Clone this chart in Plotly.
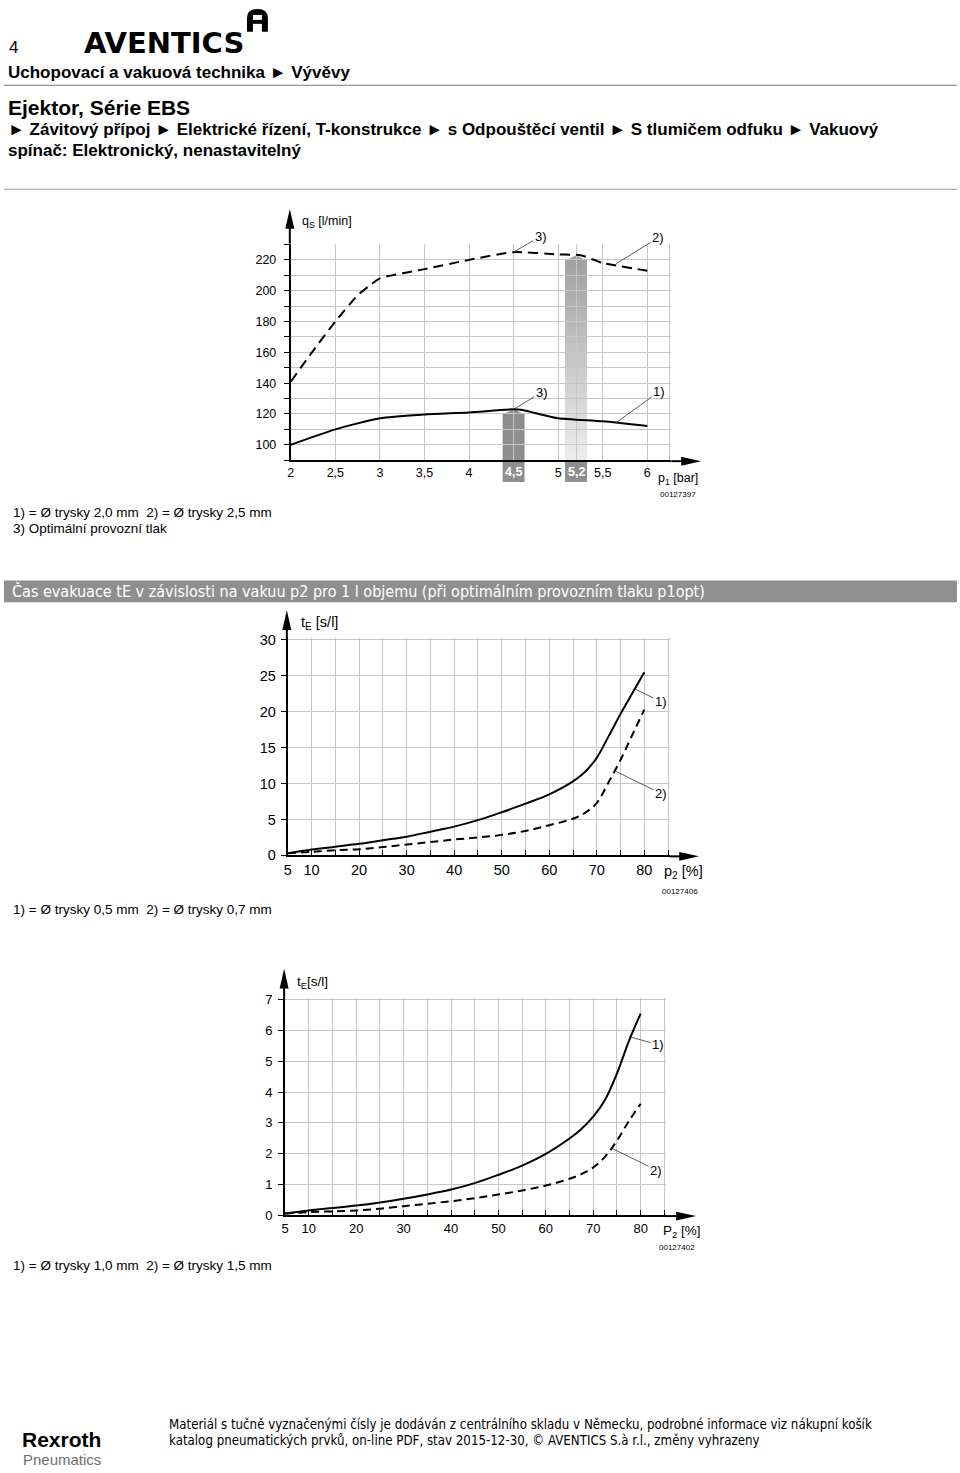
import plotly.graph_objects as go

W, H = 960, 1473
FONT = "Liberation Sans, Arial, Helvetica, sans-serif"
NARROW = "Liberation Sans Narrow, Arial Narrow, DejaVu Sans Condensed, sans-serif"

# ---------------- data ----------------
# Chart 1: suction flow q_S [l/min] vs operating pressure p1 [bar]
p1_nozzle25 = [2, 2.25, 2.5, 2.75, 2.9, 3, 3.5, 4, 4.5, 5, 5.25, 5.5, 6]
qs_nozzle25 = [141, 161, 180, 197, 204, 208, 214, 220, 225, 223.5, 223, 218, 213]
p1_nozzle20 = [2, 2.5, 3, 3.5, 4, 4.5, 4.6, 4.75, 5, 5.5, 6]
qs_nozzle20 = [100, 110, 117.2, 119.6, 121, 123, 122.6, 120.5, 117.2, 115.2, 112.2]
p1_opt = [4.5, 5.2]          # optimal operating pressure (nozzle 2.0 / 2.5 mm)
qs_opt = [123, 223]
p1_ticks = [2, 2.5, 3, 3.5, 4, 4.5, 5, 5.2, 5.5, 6]
p1_labels = ["2", "2,5", "3", "3,5", "4", "", "5", "", "5,5", "6"]
p1_opt_labels = ["4,5", "5,2"]
qs_ticks = [100, 120, 140, 160, 180, 200, 220]

# Chart 2: evacuation time t_E [s/l] vs vacuum p2 [%] (nozzle 0.5 / 0.7 mm)
p2_a = [5, 10, 15, 20, 25, 30, 35, 40, 45, 50, 55, 60, 65, 67.5, 70, 72.5, 75, 77.5, 80]
te_nozzle05 = [0.3, 0.8, 1.2, 1.6, 2.1, 2.6, 3.3, 4.0, 4.9, 6.0, 7.2, 8.5, 10.3, 11.6, 13.6, 16.6, 19.7, 22.6, 25.5]
te_nozzle07 = [0.3, 0.5, 0.7, 0.85, 1.15, 1.5, 1.85, 2.2, 2.5, 2.85, 3.4, 4.2, 5.1, 5.9, 7.3, 10.2, 13.3, 16.8, 20.3]
te2_ticks = [0, 5, 10, 15, 20, 25, 30]

# Chart 3: evacuation time t_E [s/l] vs vacuum P2 [%] (nozzle 1.0 / 1.5 mm)
p2_b = [5, 10, 15, 20, 25, 30, 35, 40, 45, 50, 55, 60, 65, 67.5, 70, 72.5, 75, 77.5, 80]
te_nozzle10 = [0.05, 0.15, 0.23, 0.31, 0.41, 0.53, 0.67, 0.83, 1.04, 1.31, 1.61, 1.99, 2.49, 2.8, 3.2, 3.75, 4.6, 5.65, 6.55]
te_nozzle15 = [0.05, 0.1, 0.12, 0.15, 0.21, 0.29, 0.37, 0.45, 0.55, 0.67, 0.8, 0.96, 1.18, 1.33, 1.55, 1.9, 2.42, 3.05, 3.62]
te3_ticks = [0, 1, 2, 3, 4, 5, 6, 7]

p2_ticks = [5, 10, 20, 30, 40, 50, 60, 70, 80]
p2_labels = ["5", "10", "20", "30", "40", "50", "60", "70", "80"]
p2_minor = [15, 25, 35, 45, 55, 65, 75, 85]

# ---------------- geometry (value -> pixel calibration) ----------------
charts = {
    1: dict(xr=[2, 6.27], xcal=(2, 288, 6, 646), yr=[90, 230.5], ycal=(100, 443, 220, 256.3),
            xtip=700, ytip=205, fs=12.5, stand=5),
    2: dict(xr=[5, 85.3], xcal=(5, 285, 80, 643), yr=[0, 30.2], ycal=(0, 857.5, 30, 640),
            xtip=698, ytip=610, fs=14.5, stand=2),
    3: dict(xr=[5, 85.3], xcal=(5, 282.3, 80, 639.3), yr=[0, 7.05], ycal=(0, 1220.7, 7, 1003.3),
            xtip=695, ytip=972, fs=13, stand=3),
}


def xpx(c, v):
    a, pa, b, pb = c["xcal"]
    return pa + (v - a) * (pb - pa) / (b - a)


def ypx(c, v):
    a, pa, b, pb = c["ycal"]
    return pa + (v - a) * (pb - pa) / (b - a)


def PX(px):
    return px / W


def PY(py):
    return 1 - py / H


fig = go.Figure()

LINE = dict(color="black", width=2)

fig.add_trace(go.Scatter(x=p1_nozzle25, y=qs_nozzle25, mode="lines",
                         line=dict(color="black", width=2, dash="10px,6px", shape="spline", smoothing=0.6),
                         xaxis="x", yaxis="y"))
fig.add_trace(go.Scatter(x=p1_nozzle20, y=qs_nozzle20, mode="lines",
                         line=dict(LINE, shape="spline", smoothing=0.6), xaxis="x", yaxis="y"))
fig.add_trace(go.Scatter(x=p2_a, y=te_nozzle05, mode="lines",
                         line=dict(LINE, shape="spline", smoothing=1.0), xaxis="x2", yaxis="y2"))
fig.add_trace(go.Scatter(x=p2_a, y=te_nozzle07, mode="lines",
                         line=dict(color="black", width=2, dash="8px,5px", shape="spline", smoothing=1.0),
                         xaxis="x2", yaxis="y2"))
fig.add_trace(go.Scatter(x=p2_b, y=te_nozzle10, mode="lines",
                         line=dict(LINE, shape="spline", smoothing=1.0), xaxis="x3", yaxis="y3"))
fig.add_trace(go.Scatter(x=p2_b, y=te_nozzle15, mode="lines",
                         line=dict(color="black", width=2, dash="8px,5px", shape="spline", smoothing=1.0),
                         xaxis="x3", yaxis="y3"))

GRID = "#c6c6c6"


def base_axis(size):
    return dict(showline=True, linecolor="black", linewidth=2, showgrid=True, gridcolor=GRID,
                gridwidth=1, zeroline=False, fixedrange=True,
                tickfont=dict(family=FONT, size=size, color="black"))


layout_axes = {}
for i, c in charts.items():
    sx = "" if i == 1 else str(i)
    xd = [PX(xpx(c, c["xr"][0])), PX(xpx(c, c["xr"][1]))]
    yd = [PY(ypx(c, c["yr"][0])), PY(ypx(c, c["yr"][1]))]
    layout_axes["xaxis" + sx] = dict(base_axis(c["fs"]), domain=xd, range=c["xr"], anchor="y" + sx)
    layout_axes["yaxis" + sx] = dict(base_axis(c["fs"]), domain=yd, range=c["yr"], anchor="x" + sx,
                                     ticks="outside", ticklen=5, tickwidth=1, tickcolor="black",
                                     ticklabelstandoff=c["stand"])

# chart 1 axes
layout_axes["xaxis"].update(tickmode="array", tickvals=p1_ticks, ticktext=p1_labels, ticks="",
                            minor=dict(tickvals=[6.25], showgrid=True, gridcolor=GRID))
layout_axes["yaxis"].update(tickmode="array", tickvals=qs_ticks,
                            minor=dict(dtick=10, showgrid=True, gridcolor=GRID, ticks="outside",
                                       ticklen=5, tickcolor="black"))
# chart 2/3 axes
for sx, yt in (("2", te2_ticks), ("3", te3_ticks)):
    layout_axes["xaxis" + sx].update(tickmode="array", tickvals=p2_ticks, ticktext=p2_labels,
                                     ticks="inside", ticklen=5, tickcolor="black", tickwidth=1,
                                     minor=dict(tickvals=p2_minor, showgrid=True, gridcolor=GRID,
                                                ticks="inside", ticklen=5, tickcolor="black"))
    layout_axes["yaxis" + sx].update(tickmode="array", tickvals=yt)

shapes = []
annotations = []

# axis arrows
for i, c in charts.items():
    ox = xpx(c, c["xr"][0])
    oy = ypx(c, c["yr"][0])
    xend = xpx(c, c["xr"][1])
    ytop = ypx(c, c["yr"][1])
    L, Wd = 20, 4.5
    shapes.append(dict(type="line", xref="paper", yref="paper", x0=PX(xend), x1=PX(c["xtip"] - L + 2),
                       y0=PY(oy + 1), y1=PY(oy + 1), line=dict(color="black", width=2)))
    shapes.append(dict(type="path", xref="paper", yref="paper",
                       path=f"M {PX(c['xtip'])},{PY(oy + 1)} L {PX(c['xtip'] - L)},{PY(oy + 1 - Wd)} "
                            f"L {PX(c['xtip'] - L)},{PY(oy + 1 + Wd)} Z",
                       fillcolor="black", line=dict(width=0)))
    shapes.append(dict(type="line", xref="paper", yref="paper", x0=PX(ox - 1), x1=PX(ox - 1),
                       y0=PY(ytop), y1=PY(c["ytip"] + L - 2), line=dict(color="black", width=2)))
    shapes.append(dict(type="path", xref="paper", yref="paper",
                       path=f"M {PX(ox - 1)},{PY(c['ytip'])} L {PX(ox - 1 - Wd)},{PY(c['ytip'] + L)} "
                            f"L {PX(ox - 1 + Wd)},{PY(c['ytip'] + L)} Z",
                       fillcolor="black", line=dict(width=0)))

# optimal pressure bars in chart 1
c1 = charts[1]
axis_y = ypx(c1, c1["yr"][0])
box_bottom = axis_y + 22
hw = 11
DARK = "#8e8e8e"
# bar for 4.5 (dark)
xc = xpx(c1, p1_opt[0])
tip = ypx(c1, qs_opt[0])
sh = tip + 5
shapes.append(dict(type="path", xref="paper", yref="paper", layer="below",
                   path=f"M {PX(xc - hw)},{PY(box_bottom)} L {PX(xc - hw)},{PY(sh)} L {PX(xc)},{PY(tip)} "
                        f"L {PX(xc + hw)},{PY(sh)} L {PX(xc + hw)},{PY(box_bottom)} Z",
                   fillcolor=DARK, line=dict(width=0)))
# bar for 5.2 (gradient, light)
xc = xpx(c1, p1_opt[1])
tip = ypx(c1, qs_opt[1])
sh = tip + 5
shapes.append(dict(type="rect", xref="paper", yref="paper", layer="below",
                   x0=PX(xc - hw), x1=PX(xc + hw), y0=PY(box_bottom), y1=PY(axis_y),
                   fillcolor=DARK, line=dict(width=0)))
N = 24
top_c, bot_c = (160, 160, 160), (238, 238, 238)
for k in range(N):
    y0 = sh + (axis_y - sh) * k / N
    y1 = sh + (axis_y - sh) * (k + 1) / N
    t = (k + 0.5) / N
    col = tuple(int(top_c[j] + (bot_c[j] - top_c[j]) * t) for j in range(3))
    shapes.append(dict(type="rect", xref="paper", yref="paper", layer="below",
                       x0=PX(xc - hw), x1=PX(xc + hw), y0=PY(y1 + 0.5), y1=PY(y0 - 0.5),
                       fillcolor=f"rgb{col}", line=dict(width=0)))
shapes.append(dict(type="path", xref="paper", yref="paper", layer="below",
                   path=f"M {PX(xc - hw)},{PY(sh + 0.5)} L {PX(xc)},{PY(tip)} L {PX(xc + hw)},{PY(sh + 0.5)} Z",
                   fillcolor="rgb(160,160,160)", line=dict(width=0)))
for v, lab in zip(p1_opt, p1_opt_labels):
    annotations.append(dict(x=v, xref="x", y=PY(axis_y + 11.5), yref="paper", text=f"<b>{lab}</b>",
                            showarrow=False, yanchor="middle",
                            font=dict(family=FONT, size=12.5, color="white")))

# header lines
shapes.append(dict(type="line", xref="paper", yref="paper", x0=0, x1=PX(957), y0=PY(80), y1=PY(80),
                   line=dict(color="#7a7a7a", width=1)))
shapes.append(dict(type="line", xref="paper", yref="paper", x0=0, x1=PX(957), y0=PY(185), y1=PY(185),
                   line=dict(color="#9a9a9a", width=1)))
# section banner
shapes.append(dict(type="rect", xref="paper", yref="paper", x0=0, x1=PX(957), y0=PY(602), y1=PY(580),
                   fillcolor="#8f8f8f", line=dict(width=0)))
# AVENTICS logo icon
shapes.append(dict(type="path", xref="paper", yref="paper",
                   path=f"M {PX(244)},{PY(26)} L {PX(244)},{PY(12)} Q {PX(244)},{PY(3)} {PX(254.5)},{PY(3)} "
                        f"Q {PX(265)},{PY(3)} {PX(265)},{PY(12)} L {PX(265)},{PY(26)} Z",
                   fillcolor="black", line=dict(width=0)))
shapes.append(dict(type="rect", xref="paper", yref="paper", x0=PX(250), x1=PX(259), y0=PY(14), y1=PY(9),
                   fillcolor="white", line=dict(width=0)))
shapes.append(dict(type="rect", xref="paper", yref="paper", x0=PX(250), x1=PX(259), y0=PY(27), y1=PY(18),
                   fillcolor="white", line=dict(width=0)))


def txt(x, y, text, size, color="black", family=FONT, xanchor="left", bold=False):
    if bold:
        text = f"<b>{text}</b>"
    annotations.append(dict(x=PX(x), y=PY(y), xref="paper", yref="paper", text=text, showarrow=False,
                            xanchor=xanchor, yanchor="middle",
                            font=dict(family=family, size=size, color=color)))


NB = "\u00a0"
txt(3, 42, "4", 17)
txt(78, 37, "AVENTICS", 29, family="DejaVu Sans", bold=True)
txt(2, 67, "Uchopovací a vakuová technika ► Vývěvy", 17, bold=True)
txt(2, 102, "Ejektor, Série EBS", 21, bold=True)
txt(2, 125, "► Závitový přípoj ► Elektrické řízení, T-konstrukce ► s Odpouštěcí ventil ► S tlumičem odfuku ► Vakuový", 17, bold=True)
txt(2, 146, "spínač: Elektronický, nenastavitelný", 17, bold=True)

txt(7, 511, f"1) = Ø trysky 2,0 mm{NB}{NB}2) = Ø trysky 2,5 mm", 13.5)
txt(7, 528, "3) Optimální provozní tlak", 13.5)
txt(6, 591, "Čas evakuace tE v závislosti na vakuu p2 pro 1 l objemu (při optimálním provozním tlaku p1opt)",
    16, color="white", family=NARROW)
txt(7, 912, f"1) = Ø trysky 0,5 mm{NB}{NB}2) = Ø trysky 0,7 mm", 13.5)
txt(7, 1272, f"1) = Ø trysky 1,0 mm{NB}{NB}2) = Ø trysky 1,5 mm", 13.5)

# axis titles / codes
txt(297, 218, "q<sub>S</sub> [l/min]", 12.5)
txt(655, 478, "p<sub>1</sub> [bar]", 12.5)
txt(697, 493, "00127397", 8, xanchor="right")
txt(296, 623, "t<sub>E</sub> [s/l]", 14.5)
txt(661, 874, "p<sub>2</sub> [%]", 14.5)
txt(699, 894, "00127406", 8, xanchor="right")
txt(292, 986, "t<sub>E</sub>[s/l]", 13.5)
txt(660, 1237, "P<sub>2</sub> [%]", 13.5)
txt(696, 1253, "00127402", 8, xanchor="right")

# footer
txt(16, 1447, "Rexroth", 21, bold=True)
txt(17, 1467, "Pneumatics", 15, color="#6e6e6e")
txt(164, 1432, "Materiál s tučně vyznačenými čísly je dodáván z centrálního skladu v Německu, podrobné informace viz nákupní košík",
    13.2, family=NARROW)
txt(164, 1448, "katalog pneumatických prvků, on-line PDF, stav 2015-12-30, © AVENTICS S.à r.l., změny vyhrazeny",
    13.2, family=NARROW)

# leader-line labels (point on curve -> label)
leaders = [
    ("x", "y", 4.5, 225, "3)", 27, -16),
    ("x", "y", 5.65, 217.5, "2)", 42, -26),
    ("x", "y", 4.5, 123, "3)", 28, -17),
    ("x", "y", 5.65, 114.4, "1)", 43, -31),
    ("x2", "y2", 78.2, 23.1, "1)", 25, 12),
    ("x2", "y2", 74.0, 11.7, "2)", 45, 22),
    ("x3", "y3", 77.6, 5.8, "1)", 29, 8),
    ("x3", "y3", 73.8, 2.18, "2)", 45, 22),
]
for xr_, yr_, x, y, t, ax, ay in leaders:
    annotations.append(dict(x=x, y=y, xref=xr_, yref=yr_, text=t, showarrow=True, arrowhead=0,
                            arrowwidth=0.8, arrowcolor="#333", ax=ax, ay=ay, standoff=0,
                            font=dict(family=FONT, size=13, color="black")))

fig.update_layout(
    width=W, height=H, autosize=False,
    margin=dict(l=0, r=0, t=0, b=0),
    paper_bgcolor="white", plot_bgcolor="rgba(0,0,0,0)",
    showlegend=False,
    shapes=shapes, annotations=annotations,
    **layout_axes,
)

fig.write_html("out.html", post_script="document.body.style.margin='0';document.body.style.padding='0';")
